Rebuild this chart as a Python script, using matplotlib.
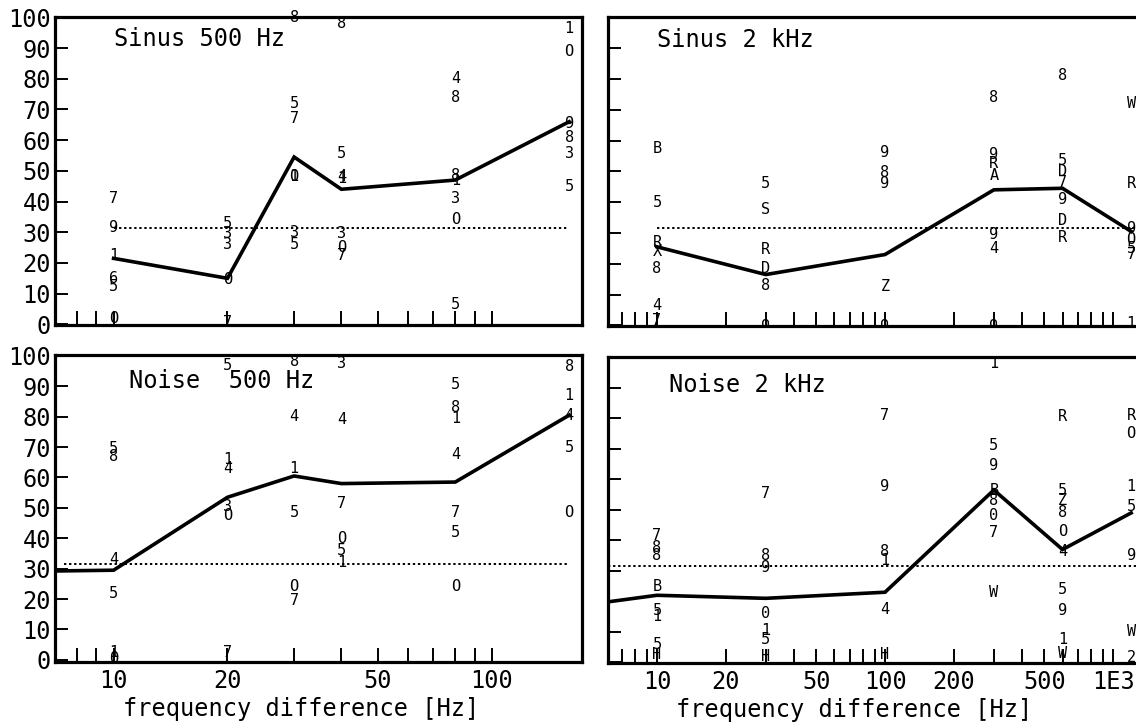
import matplotlib
matplotlib.use('Agg')
import matplotlib.pyplot as plt
from matplotlib.ticker import NullLocator

plt.rcParams['font.family'] = ['DejaVu Sans Mono', 'DejaVu Sans']

# frequency differences (x) for the two carrier frequencies
freq_lo = [10, 20, 30, 40, 80, 160]
freq_hi = [10, 30, 100, 300, 600, 1200]
chance = 31.5

# Sinus 500 Hz: per-column subject values and their symbols
sin500_vals = [[41, 31.5, 22.5, 15, 12.5, 2],
               [33, 29.5, 26, 14.5, 0.5],
               [100, 72, 67, 48, 48, 30, 26],
               [98, 55.5, 48, 47.5, 29.5, 25, 22.5],
               [80, 74, 48.5, 47, 41, 34, 6.5],
               [96.5, 89, 65.5, 61, 55.5, 45]]
sin500_syms = [['7', '9', '1', '6', '5', 'O'],
               ['5', '3', '3', 'O', '7'],
               ['8', '5', '7', 'O', '1', '3', '5'],
               ['8', '5', '4', '1', '3', 'O', '7'],
               ['4', '8', '8', '1', '3', 'O', '5'],
               ['1', 'O', '9', '8', '3', '5']]
sin500_mean = [21.5, 15, 54.5, 44, 47, 66]

# Sinus 2 kHz
sin2k_vals = [[57.5, 40, 27, 24, 18.5, 6.5, 1.5],
              [46, 37.5, 24.5, 18.5, 13, 0.5],
              [56, 49.5, 46, 12.5, 0.5],
              [74, 55.5, 52.5, 48.5, 29.5, 25, 0.5],
              [81, 53.5, 50, 46.5, 41, 34, 28.5],
              [72, 46, 31.5, 28, 25, 23, 0.5]]
sin2k_syms = [['B', '5', 'R', 'X', '8', '4', '7'],
              ['5', 'S', 'R', 'D', '8', 'o'],
              ['9', '8', '9', 'Z', 'o'],
              ['8', '9', 'R', 'A', '9', '4', 'o'],
              ['8', '5', 'D', '7', '9', 'D', 'R'],
              ['W', 'R', '9', 'O', '5', '7', '1']]
sin2k_mean = [25.5, 16.5, 23, 44, 44.5, 30.5]

# Noise 500 Hz (first mean value sits left of the axis)
noise500_vals = [[69.5, 67, 33, 22, 2.5, 0.5],
                 [97, 66, 63, 50.5, 47.5, 2.5],
                 [98, 80, 63, 48.5, 24, 19.5],
                 [97.5, 79, 51.5, 40, 36, 32],
                 [90.5, 83, 79.5, 67.5, 48.5, 42, 24],
                 [96.5, 87, 80.5, 70, 48.5]]
noise500_syms = [['5', '8', '4', '5', '1', 'O'],
                 ['5', '1', '4', '3', 'O', '7'],
                 ['8', '4', '1', '5', 'O', '7'],
                 ['3', '4', '7', 'O', '5', '1'],
                 ['5', '8', '1', '4', '7', '5', 'O'],
                 ['8', '1', '4', '5', 'O']]
noise500_mean_x = [5, 10, 20, 30, 40, 80, 160]
noise500_mean = [29, 29.5, 53.5, 60.5, 58, 58.5, 80.5]

# Noise 2 kHz (first mean value sits left of the axis)
noise2k_vals = [[41.5, 37.5, 35, 25, 17, 15, 6, 2.5],
                [55.5, 35, 31, 16, 10.5, 7.5, 2],
                [81, 57.5, 36.5, 33.5, 17.5, 2.5],
                [98, 71, 64.5, 56.5, 53, 48, 42.5, 23],
                [80.5, 56.5, 53, 49, 43, 36.5, 24, 17, 7.5, 3],
                [81, 75, 57.5, 51, 35, 10, 1.5]]
noise2k_syms = [['7', '8', '8', 'B', '5', '1', '5', 'H'],
                ['7', '8', '9', '0', '1', '5', 'H'],
                ['7', '9', '8', '1', '4', 'H'],
                ['1', '5', '9', 'B', '8', '0', '7', 'W'],
                ['R', '5', 'Z', '8', 'O', '4', '5', '9', '1', 'W'],
                ['R', 'O', '1', '5', '9', 'W', '2']]
noise2k_mean_x = [4, 10, 30, 100, 300, 600, 1200]
noise2k_mean = [18, 22, 21, 23, 56.5, 37, 49]

W, H = 1136, 724
fig = plt.figure(figsize=(W / 100, H / 100), dpi=100)
fig.patch.set_facecolor('white')


def px_rect(x0, y0, x1, y1):
    return [x0 / W, 1 - y1 / H, (x1 - x0) / W, (y1 - y0) / H]


def panel(rect, xlim, ylim, freqs, vals, syms, mx, my, ref, title, tpos,
          labels, left, bottom):
    ax = fig.add_axes(rect)
    ax.set_xscale('log')
    ax.set_xlim(*xlim)
    ax.set_ylim(*ylim)
    for s in ax.spines.values():
        s.set_linewidth(2.3)
    if not left:
        ax.spines['right'].set_visible(False)

    # scattered subject symbols
    for f, col_v, col_s in zip(freqs, vals, syms):
        for v, s in zip(col_v, col_s):
            ax.text(f, v, s, ha='center', va='center', fontsize=11,
                    color='black', clip_on=False)

    ax.hlines(chance, ref[0], ref[1], colors='black',
              linestyles=(0, (1.2, 1.4)), linewidth=1.4)
    ax.plot(mx, my, color='black', linewidth=2.6, solid_joinstyle='miter',
            clip_on=True)

    ticks = [m * 10 ** e for e in range(0, 4) for m in range(1, 10)]
    ticks = [t for t in ticks if xlim[0] <= t <= xlim[1]]
    ax.set_xticks(ticks)
    if bottom:
        ax.set_xticklabels([labels.get(t, '') for t in ticks])
    else:
        ax.set_xticklabels([])
    ax.xaxis.set_minor_locator(NullLocator())
    ax.set_yticks(range(0, 101, 10))
    if left:
        ax.set_yticklabels([str(v) for v in range(0, 101, 10)])
    else:
        ax.set_yticklabels([])
    ax.tick_params(axis='x', direction='in', length=10, width=1.4,
                   labelsize=17, pad=5, top=False)
    ax.tick_params(axis='y', direction='in', length=9, width=1.4,
                   labelsize=17, pad=3, right=False)

    ax.text(tpos[0], tpos[1], title, transform=ax.transAxes, fontsize=17,
            ha='left', va='center')
    if bottom:
        ax.set_xlabel('frequency difference [Hz]', fontsize=17)
        ax.xaxis.set_label_coords(0.467, -0.115)
    return ax


lab_lo = {10: '10', 20: '20', 50: '50', 100: '100'}
lab_hi = {10: '10', 20: '20', 50: '50', 100: '100', 200: '200',
          500: '500', 1000: '1E3'}

xl_lo = (7.0, 173)
xl_hi = (6.1, 1260)

panel(px_rect(55, 17, 582, 325), xl_lo, (-0.2, 100.1), freq_lo,
      sin500_vals, sin500_syms, freq_lo, sin500_mean, (10, 160),
      'Sinus 500 Hz', (0.112, 0.93), lab_lo, True, False)
panel(px_rect(608, 17, 1136, 326), xl_hi, (-0.2, 100.1), freq_hi,
      sin2k_vals, sin2k_syms, freq_hi, sin2k_mean, (10, 1260),
      'Sinus 2 kHz', (0.093, 0.926), lab_hi, False, False)
panel(px_rect(55, 355, 582, 662), xl_lo, (-0.7, 100.3), freq_lo,
      noise500_vals, noise500_syms, noise500_mean_x, noise500_mean,
      (7.4, 160), 'Noise  500 Hz', (0.14, 0.915), lab_lo, True, True)
panel(px_rect(608, 357, 1136, 663), xl_hi, (-0.2, 100.1), freq_hi,
      noise2k_vals, noise2k_syms, noise2k_mean_x, noise2k_mean,
      (6.1, 1260), 'Noise 2 kHz', (0.115, 0.91), lab_hi, False, True)

fig.savefig('out.png', dpi=100, facecolor='white')
